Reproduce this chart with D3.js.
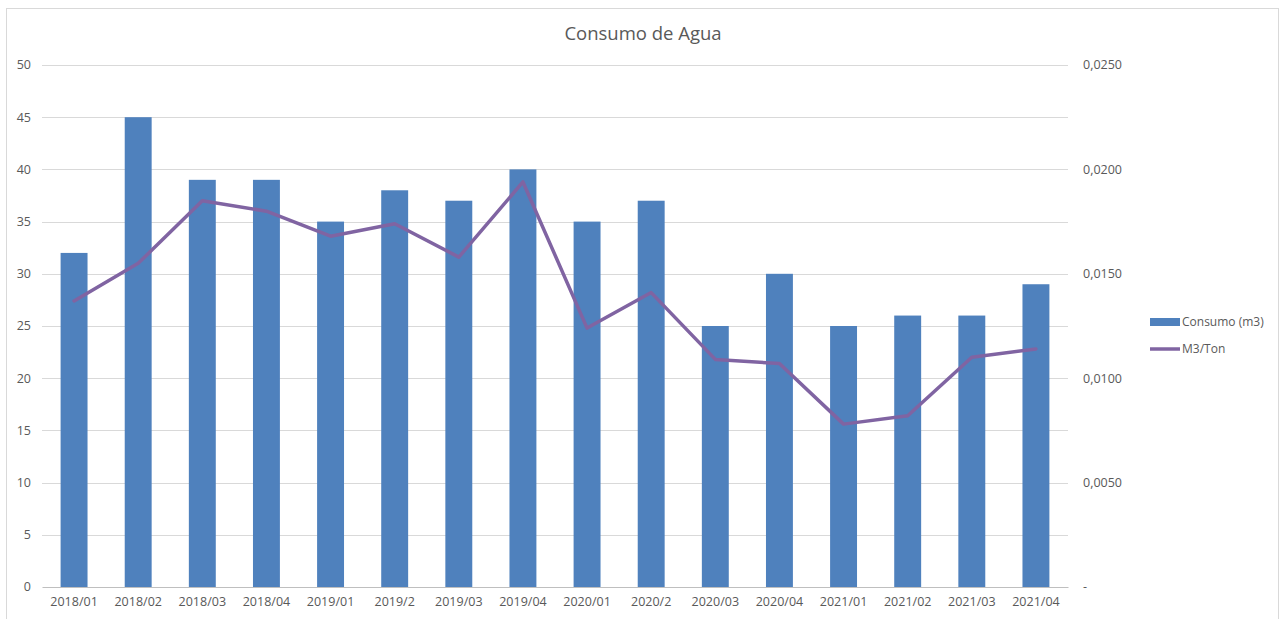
<!DOCTYPE html>
<html>
<head>
<meta charset="utf-8">
<script src="https://cdn.jsdelivr.net/npm/d3@7"></script>
<style>
  body { margin: 0; background: #fff; }
  text { font-family: "Open Sans", sans-serif; fill: #595959; }
</style>
</head>
<body>
<script>
var periodos = ["2018/01", "2018/02", "2018/03", "2018/04", "2019/01", "2019/2", "2019/03", "2019/04",
                "2020/01", "2020/2", "2020/03", "2020/04", "2021/01", "2021/02", "2021/03", "2021/04"];
var consumo = [32, 45, 39, 39, 35, 38, 37, 40, 35, 37, 25, 30, 25, 26, 26, 29];
var m3Ton = [0.0137, 0.0155, 0.0185, 0.0180, 0.0168, 0.0174, 0.0158, 0.0194,
             0.0124, 0.0141, 0.0109, 0.0107, 0.0078, 0.0082, 0.0110, 0.0114];
var ticksIzq = [0, 5, 10, 15, 20, 25, 30, 35, 40, 45, 50];
var ticksDer = [0, 0.005, 0.010, 0.015, 0.020, 0.025];

var svgW = 1280;
var svgH = 619;
var x0 = 42, x1 = 1068;
var yBase = 587, yTop = 65;

var svg = d3.select("body")
            .append("svg")
            .attr("width", svgW)
            .attr("height", svgH);

// marco (el borde inferior queda fuera de la imagen)
svg.append("rect")
   .attr("x", 6.5).attr("y", 8.5)
   .attr("width", 1272).attr("height", 620)
   .attr("fill", "none")
   .attr("stroke", "#d9d9d9");

var xScale = d3.scaleBand()
               .domain(periodos)
               .range([x0, x1])
               .paddingInner(0.58)
               .paddingOuter(0.29);

var yIzq = d3.scaleLinear().domain([0, 50]).range([yBase, yTop]);
var yDer = d3.scaleLinear().domain([0, 0.025]).range([yBase, yTop]);

// grid
svg.append("g")
   .selectAll("line")
   .data(ticksIzq.slice(1))
   .enter()
   .append("line")
   .attr("x1", x0).attr("x2", x1)
   .attr("y1", function (d) { return Math.round(yIzq(d)) + 0.5; })
   .attr("y2", function (d) { return Math.round(yIzq(d)) + 0.5; })
   .attr("stroke", "#d9d9d9")
   .attr("stroke-width", 1);

// eje izquierdo
svg.append("g")
   .selectAll("text")
   .data(ticksIzq)
   .enter()
   .append("text")
   .attr("x", 31)
   .attr("y", function (d) { return yIzq(d); })
   .attr("dy", "0.35em")
   .attr("text-anchor", "end")
   .attr("font-size", "12.5px")
   .text(function (d) { return d; });

// eje derecho
var fmtDer = function (d) { return d === 0 ? "-" : d.toFixed(4).replace(".", ","); };
svg.append("g")
   .selectAll("text")
   .data(ticksDer)
   .enter()
   .append("text")
   .attr("x", 1083)
   .attr("y", function (d) { return yDer(d); })
   .attr("dy", "0.35em")
   .attr("text-anchor", "start")
   .attr("font-size", "12.5px")
   .text(fmtDer);

// barras
svg.append("g")
   .selectAll("rect")
   .data(consumo)
   .enter()
   .append("rect")
   .attr("x", function (d, i) { return xScale(periodos[i]); })
   .attr("y", function (d) { return yIzq(d); })
   .attr("width", xScale.bandwidth())
   .attr("height", function (d) { return yBase - yIzq(d); })
   .attr("fill", "#4f81bd");

// eje x
var xAxis = d3.axisBottom(xScale).tickSize(0).tickPadding(10);
var gx = svg.append("g")
            .attr("transform", "translate(0," + yBase + ")")
            .call(xAxis);
gx.select(".domain").attr("stroke", "#bfbfbf");
gx.selectAll("text")
  .attr("font-size", "12.5px")
  .attr("font-family", "Open Sans, sans-serif")
  .attr("fill", "#595959");

// linea
var linea = d3.line()
              .x(function (d, i) { return xScale(periodos[i]) + xScale.bandwidth() / 2; })
              .y(function (d) { return yDer(d); });

svg.append("path")
   .datum(m3Ton)
   .attr("d", linea)
   .attr("fill", "none")
   .attr("stroke", "#8064a2")
   .attr("stroke-width", 3.5)
   .attr("stroke-linejoin", "round")
   .attr("stroke-linecap", "round");

// titulo
svg.append("text")
   .attr("x", 643)
   .attr("y", 40)
   .attr("text-anchor", "middle")
   .attr("font-size", "18.5px")
   .text("Consumo de Agua");

// leyenda
var ley = svg.append("g").attr("transform", "translate(1150,0)");
ley.append("rect")
   .attr("x", 0).attr("y", 318)
   .attr("width", 30).attr("height", 8)
   .attr("fill", "#4f81bd");
ley.append("text")
   .attr("x", 32).attr("y", 322)
   .attr("dy", "0.35em")
   .attr("font-size", "12px")
   .text("Consumo (m3)");
ley.append("line")
   .attr("x1", 0).attr("x2", 30)
   .attr("y1", 349).attr("y2", 349)
   .attr("stroke", "#8064a2")
   .attr("stroke-width", 3.5);
ley.append("text")
   .attr("x", 32).attr("y", 349)
   .attr("dy", "0.35em")
   .attr("font-size", "12px")
   .text("M3/Ton");
</script>
</body>
</html>
